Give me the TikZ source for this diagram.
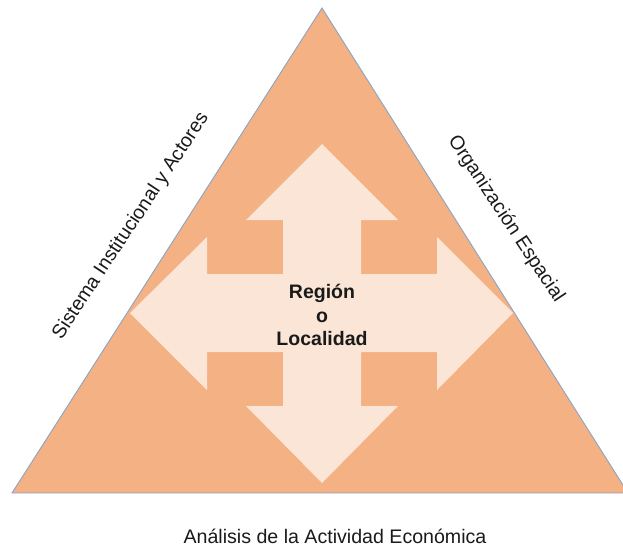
\documentclass[tikz,border=0pt]{standalone}
\usepackage{fontspec}
\setmainfont{Liberation Sans}
\definecolor{triFill}{HTML}{F4B183}
\definecolor{triLine}{HTML}{8AA4C4}
\definecolor{arrFill}{HTML}{FBE5D6}
\definecolor{txt}{HTML}{1A1A1A}
\tikzset{
  tri/.style={fill=triFill, draw=triLine, line width=0.9pt, line join=miter},
  cross/.style={fill=arrFill, draw=none},
  sidelabel/.style={font=\fontsize{19.6}{23}\selectfont, text=txt, inner sep=0pt},
  centerlabel/.style={font=\bfseries\fontsize{19.5}{23.5}\selectfont, text=txt, align=center, inner sep=0pt}
}
\begin{document}
\begin{tikzpicture}[x=1pt,y=-1pt]
\useasboundingbox (0,0) rectangle (623,548);
\clip (0,0) rectangle (623,548);
% triangle
\coordinate (apex) at (322,8);
\coordinate (bl) at (12,493);
\coordinate (br) at (628,493);
\draw[tri] (bl) -- (apex) -- (br) -- cycle;
% four-way arrow
\fill[cross] (322,144) -- (398,220) -- (361,220) -- (361,274)
  -- (437,274) -- (437,237) -- (513,313) -- (437,390) -- (437,352)
  -- (361,352) -- (361,406) -- (398,406) -- (322,483) -- (246,406)
  -- (283,406) -- (283,352) -- (207,352) -- (207,390) -- (130,313)
  -- (207,237) -- (207,274) -- (283,274) -- (283,220) -- (246,220) -- cycle;
% labels
\node[centerlabel] (center) at (322,315) {Región\\o\\Localidad};
\node[sidelabel, rotate=56.5] (left) at (131,226) {Sistema Institucional y Actores};
\node[sidelabel, rotate=-56.5] (right) at (506,219) {Organización Espacial};
\node[sidelabel] (bottom) at (335,536) {Análisis de la Actividad Económica};
\end{tikzpicture}
\end{document}
